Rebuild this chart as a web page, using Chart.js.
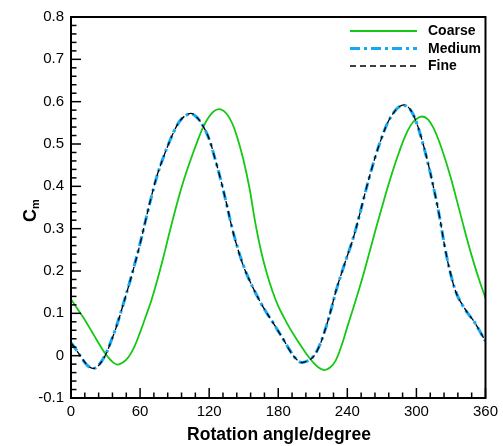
<!DOCTYPE html>
<html>
<head>
<meta charset="utf-8">
<script src="https://cdn.jsdelivr.net/npm/chart.js@4"></script>
<style>
  html, body { margin: 0; padding: 0; background: #fff; }
</style>
</head>
<body>
<canvas id="grafico" width="503" height="446"></canvas>
<script>
// rotation angle, every 5 degrees
var angulos = [];
for (var a = 0; a <= 360; a += 5) angulos.push(a);

var coarse = [
  0.133, 0.113, 0.093, 0.071, 0.048, 0.025, 0.004, -0.012, -0.021, -0.016,
  -0.003, 0.021, 0.055, 0.093, 0.132, 0.179, 0.230, 0.285, 0.338, 0.388,
  0.432, 0.471, 0.508, 0.541, 0.565, 0.579, 0.582, 0.572, 0.549, 0.510,
  0.460, 0.396, 0.315, 0.248, 0.195, 0.152, 0.117, 0.090, 0.065, 0.043,
  0.022, 0.002, -0.015, -0.028, -0.034, -0.028, -0.011, 0.024, 0.068, 0.111,
  0.155, 0.202, 0.252, 0.302, 0.350, 0.397, 0.441, 0.481, 0.517, 0.544,
  0.559, 0.565, 0.558, 0.537, 0.504, 0.464, 0.419, 0.368, 0.316, 0.265,
  0.218, 0.175, 0.136
];

var medium = [
  0.031, 0.012, -0.009, -0.025, -0.030, -0.019, 0.003, 0.036, 0.074, 0.118,
  0.164, 0.213, 0.265, 0.322, 0.377, 0.427, 0.467, 0.502, 0.533, 0.556,
  0.568, 0.571, 0.561, 0.541, 0.511, 0.466, 0.416, 0.359, 0.301, 0.252,
  0.211, 0.178, 0.150, 0.124, 0.101, 0.080, 0.058, 0.036, 0.013, -0.006,
  -0.016, -0.013, -0.003, 0.019, 0.055, 0.100, 0.151, 0.195, 0.236, 0.277,
  0.326, 0.379, 0.430, 0.476, 0.516, 0.550, 0.573, 0.588, 0.591, 0.580,
  0.551, 0.507, 0.455, 0.396, 0.329, 0.252, 0.190, 0.146, 0.119, 0.099,
  0.081, 0.058, 0.034
];

var fine = [
  0.030, 0.012, -0.008, -0.024, -0.030, -0.020, 0.002, 0.035, 0.073, 0.118,
  0.164, 0.212, 0.264, 0.322, 0.378, 0.428, 0.467, 0.502, 0.533, 0.556,
  0.568, 0.572, 0.561, 0.541, 0.512, 0.466, 0.416, 0.360, 0.300, 0.251,
  0.210, 0.178, 0.150, 0.124, 0.101, 0.080, 0.058, 0.036, 0.012, -0.006,
  -0.016, -0.013, -0.004, 0.018, 0.055, 0.100, 0.152, 0.195, 0.236, 0.276,
  0.326, 0.380, 0.430, 0.476, 0.516, 0.550, 0.573, 0.588, 0.592, 0.580,
  0.551, 0.508, 0.456, 0.396, 0.330, 0.252, 0.190, 0.145, 0.120, 0.099,
  0.081, 0.058, 0.034
];

var nomes = ['Coarse', 'Medium', 'Fine'];
var passoMenorX = 12;
var passoMenorY = 0.02;

function pontos(valores) {
  return valores.map(function (v, i) { return { x: angulos[i], y: v }; });
}

var fonte = "'Liberation Sans', Arial, sans-serif";

// inward ticks, frame, legend inside the plot and axis titles
var extras = {
  id: 'extras',
  afterDatasetsDraw: function (chart) {
    var ctx = chart.ctx;
    var area = chart.chartArea;
    var x = chart.scales.x;
    var y = chart.scales.y;
    ctx.save();
    ctx.strokeStyle = '#000';
    ctx.lineWidth = 1.5;

    for (var i = 0; i * passoMenorX <= 360; i++) {
      var px = x.getPixelForValue(i * passoMenorX);
      var len = (i % 5 === 0) ? 10 : 5.5;
      ctx.beginPath();
      ctx.moveTo(px, area.bottom);
      ctx.lineTo(px, area.bottom - len);
      ctx.stroke();
    }
    for (var j = -5; j <= 40; j++) {
      var py = y.getPixelForValue(j * passoMenorY);
      var lenY = (j % 5 === 0) ? 10 : 5.5;
      ctx.beginPath();
      ctx.moveTo(area.left, py);
      ctx.lineTo(area.left + lenY, py);
      ctx.stroke();
    }

    ctx.lineWidth = 2;
    ctx.strokeRect(area.left, area.top, area.right - area.left, area.bottom - area.top);

    // legend
    var linhas = [31, 48.5, 66];
    chart.data.datasets.forEach(function (ds, k) {
      ctx.save();
      ctx.strokeStyle = ds.borderColor;
      ctx.lineWidth = ds.borderWidth;
      ctx.setLineDash(ds.borderDash || []);
      ctx.beginPath();
      ctx.moveTo(350, linhas[k]);
      ctx.lineTo(417, linhas[k]);
      ctx.stroke();
      ctx.restore();
      ctx.fillStyle = '#000';
      ctx.font = 'bold 14px ' + fonte;
      ctx.textBaseline = 'middle';
      ctx.textAlign = 'left';
      ctx.fillText(ds.label, 428, linhas[k] + 0.5);
    });

    // x title
    ctx.fillStyle = '#000';
    ctx.font = 'bold 17.5px ' + fonte;
    ctx.textAlign = 'center';
    ctx.textBaseline = 'middle';
    ctx.fillText('Rotation angle/degree', 279, 435);

    // y title C_m
    ctx.save();
    ctx.translate(31, 214);
    ctx.rotate(-Math.PI / 2);
    ctx.textAlign = 'left';
    ctx.textBaseline = 'middle';
    ctx.font = 'bold 18px ' + fonte;
    ctx.fillText('C', -8, 0);
    var w = ctx.measureText('C').width;
    ctx.font = 'bold 11px ' + fonte;
    ctx.fillText('m', -8 + w, 5);
    ctx.restore();

    ctx.restore();
  }
};

var ctx = document.getElementById('grafico').getContext('2d');

new Chart(ctx, {
  type: 'line',
  data: {
    datasets: [
      {
        label: nomes[0], data: pontos(coarse), borderColor: '#14c814',
        borderWidth: 1.8, pointRadius: 0, order: 3
      },
      {
        label: nomes[1], data: pontos(medium), borderColor: '#14a8f5',
        borderWidth: 3, borderDash: [10, 4, 3, 4], pointRadius: 0, order: 2
      },
      {
        label: nomes[2], data: pontos(fine), borderColor: '#000',
        borderWidth: 1.3, borderDash: [6, 4], pointRadius: 0, order: 1
      }
    ]
  },
  options: {
    responsive: false,
    animation: false,
    elements: { line: { tension: 0.4 } },
    layout: { padding: { left: 0, top: 17, right: 15, bottom: 0 } },
    plugins: { legend: { display: false }, tooltip: { enabled: false } },
    scales: {
      x: {
        type: 'linear', min: 0, max: 360,
        afterFit: function (s) { s.height = 48; },
        grid: { display: false, drawTicks: false },
        border: { display: false },
        ticks: {
          stepSize: 60, padding: 5, color: '#000', maxRotation: 0,
          font: { family: fonte, size: 15 }
        }
      },
      y: {
        min: -0.1, max: 0.8,
        afterFit: function (s) { s.width = 71; },
        grid: { display: false, drawTicks: false },
        border: { display: false },
        ticks: {
          stepSize: 0.1, padding: 7, color: '#000',
          font: { family: fonte, size: 15 },
          callback: function (v) {
            return Math.abs(v) < 1e-9 ? '0' : (Math.round(v * 10) / 10).toString();
          }
        }
      }
    }
  },
  plugins: [extras]
});
</script>
</body>
</html>
